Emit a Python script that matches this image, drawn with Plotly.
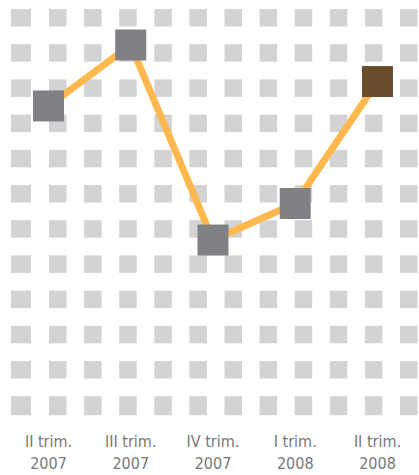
import plotly.graph_objects as go

# ---- data ----
quarters = ["II trim.", "III trim.", "IV trim.", "I trim.", "II trim."]
years = ["2007", "2007", "2007", "2008", "2008"]
values = [3.0, 3.5, 1.9, 2.2, 3.2]
marker_colors = ["#808184", "#808184", "#808184", "#808184", "#6b4d2e"]

W, H = 419, 475
xpos = list(range(len(values)))

fig = go.Figure()

# decorative background pattern of light squares (pixel layout -> paper coords)
col_starts = [11] + [49 + i * 35.1 for i in range(11)]
row_starts = [9 + j * 35.2 for j in range(12)]
shapes = []
for ci, cx in enumerate(col_starts):
    w = 20 if ci == 0 else 17.5
    for rj, ry in enumerate(row_starts):
        h = 19 if rj == len(row_starts) - 1 else 17.5
        shapes.append(dict(
            type="rect", xref="paper", yref="paper",
            x0=cx / W, x1=(cx + w) / W,
            y0=1 - (ry + h) / H, y1=1 - ry / H,
            fillcolor="#d1d3d4", line=dict(width=0), layer="below",
        ))

fig.add_trace(go.Scatter(
    x=xpos, y=values, mode="lines+markers",
    line=dict(color="#ffb84d", width=7),
    marker=dict(symbol="square", size=31, color=marker_colors,
                line=dict(width=0)),
    hoverinfo="skip", showlegend=False,
))

font = dict(family="Liberation Sans Narrow, DejaVu Sans Condensed, Roboto, sans-serif",
            size=16, color="#77787b", weight=300)

xr = [-0.5897, 4.505]
fig.update_layout(
    width=W, height=H,
    margin=dict(l=0, r=0, t=0, b=0),
    paper_bgcolor="white", plot_bgcolor="rgba(0,0,0,0)",
    shapes=shapes,
    xaxis=dict(range=xr, tickvals=xpos, ticktext=quarters, showgrid=False,
               zeroline=False, showline=False, ticks="", tickfont=font,
               ticklabelstandoff=10),
    xaxis2=dict(range=xr, tickvals=xpos, ticktext=years, showgrid=False,
                zeroline=False, showline=False, ticks="", tickfont=font,
                overlaying="x", anchor="free", position=(H - 450) / H,
                side="bottom", ticklabelstandoff=2),
    yaxis=dict(range=[0.424, 3.869], domain=[55 / H, 1], visible=False,
               showgrid=False, zeroline=False),
)
# invisible trace so xaxis2 renders
fig.add_trace(go.Scatter(x=[0], y=[values[0]], xaxis="x2", mode="markers",
                         marker=dict(opacity=0), hoverinfo="skip",
                         showlegend=False))

fig.write_html("out.html")
